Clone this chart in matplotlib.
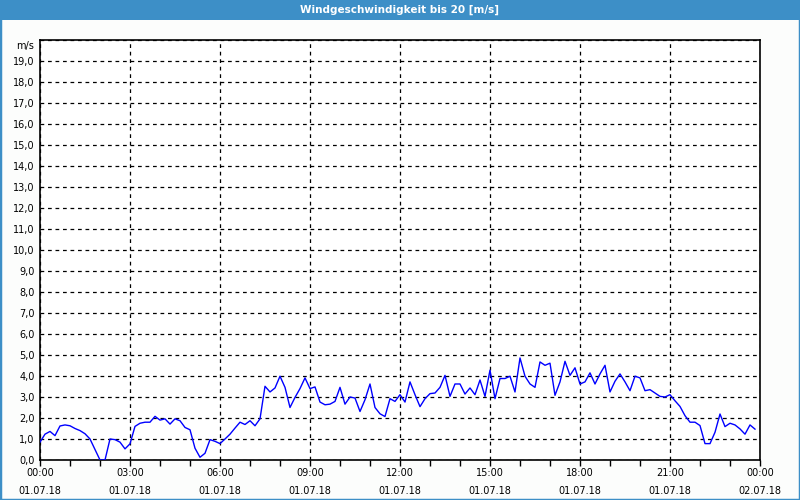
import numpy as np
import matplotlib
matplotlib.use("Agg")
import matplotlib.pyplot as plt
import matplotlib.transforms as mtransforms
from matplotlib.patches import Rectangle

title = "Windgeschwindigkeit bis 20 [m/s]"
unit_label = "m/s"

# wind speed every 10 minutes, 01.07.18 00:00 - 23:50
wind = [
    0.85, 1.23, 1.36, 1.16, 1.62, 1.67, 1.63, 1.50, 1.40, 1.25,
    1.00, 0.50, 0.00, 0.00, 1.00, 0.97, 0.85, 0.53, 0.77, 1.60,
    1.75, 1.80, 1.80, 2.08, 1.90, 1.96, 1.71, 1.96, 1.87, 1.55,
    1.44, 0.56, 0.13, 0.32, 0.97, 0.89, 0.78, 1.00, 1.23, 1.52,
    1.80, 1.69, 1.87, 1.63, 1.96, 3.51, 3.24, 3.43, 3.99, 3.46,
    2.50, 2.98, 3.40, 3.91, 3.40, 3.48, 2.76, 2.63, 2.66, 2.79,
    3.46, 2.66, 3.00, 2.95, 2.31, 2.87, 3.62, 2.50, 2.20, 2.07,
    2.92, 2.79, 3.11, 2.76, 3.72, 3.11, 2.54, 2.92, 3.16, 3.19,
    3.46, 4.03, 3.03, 3.62, 3.62, 3.14, 3.43, 3.11, 3.81, 3.03,
    4.28, 2.92, 3.88, 3.88, 3.99, 3.24, 4.86, 3.99, 3.62, 3.46,
    4.67, 4.51, 4.61, 3.08, 3.72, 4.70, 4.03, 4.39, 3.62, 3.72,
    4.15, 3.62, 4.10, 4.51, 3.24, 3.75, 4.10, 3.72, 3.30, 3.99,
    3.91, 3.30, 3.35, 3.19, 3.03, 3.00, 3.11, 2.82, 2.55, 2.11,
    1.80, 1.80, 1.64, 0.78, 0.78, 1.32, 2.19, 1.59, 1.75, 1.67,
    1.48, 1.23, 1.67, 1.47,
]
step_hours = 10 / 60

x_tick_hours = [0, 3, 6, 9, 12, 15, 18, 21, 24]
x_tick_labels = ["00:00\n01.07.18", "03:00\n01.07.18", "06:00\n01.07.18",
                 "09:00\n01.07.18", "12:00\n01.07.18", "15:00\n01.07.18",
                 "18:00\n01.07.18", "21:00\n01.07.18", "00:00\n02.07.18"]
y_ticks = list(range(0, 21))
y_tick_labels = [f"{v},0" for v in range(0, 20)] + [unit_label]

bar_blue = "#3D8FC7"
bg = "#FCFDFC"

hours = np.arange(len(wind)) * step_hours

fig = plt.figure(figsize=(8, 5), dpi=100, facecolor=bg)
ax = fig.add_axes([40 / 800, 40 / 500, 720 / 800, 420 / 500])
ax.set_facecolor("white")

ax.plot(hours, wind, color="#0000FF", lw=1.0, zorder=3)

ax.set_xlim(0, 24)
ax.set_ylim(0, 20)
ax.set_xticks(x_tick_hours)
ax.set_xticklabels(x_tick_labels, fontsize=7, linespacing=1.9)
ax.set_xticks(range(0, 25), minor=True)
ax.set_yticks(y_ticks)
ax.set_yticklabels(y_tick_labels, fontsize=7)
ax.tick_params(axis="x", which="both", direction="out", length=4, width=1,
               pad=2, colors="black")
ax.tick_params(axis="y", length=0, pad=4, colors="black")

# shift the unit label slightly down like the reference
unit_tl = ax.get_yticklabels()[-1]
unit_tl.set_transform(unit_tl.get_transform() +
                      mtransforms.ScaledTranslation(0, -5 / 100, fig.dpi_scale_trans))

ax.grid(True, which="major", color="black", lw=0.9, linestyle=(0, (3, 3)))
for s in ax.spines.values():
    s.set_color("black")
    s.set_linewidth(1.2)

# title bar
fig.patches.append(Rectangle((0, 480 / 500), 1, 20 / 500, transform=fig.transFigure,
                             facecolor=bar_blue, edgecolor="none", zorder=0))
fig.text(0.5, 490 / 500, title, color="white", fontsize=7.5, fontweight="bold",
         ha="center", va="center")
fig.patches.append(Rectangle((0, 0), 1, 1, transform=fig.transFigure,
                             facecolor="none", edgecolor=bar_blue, lw=2.5, zorder=5))

fig.savefig("out.png", dpi=100, facecolor=bg)
